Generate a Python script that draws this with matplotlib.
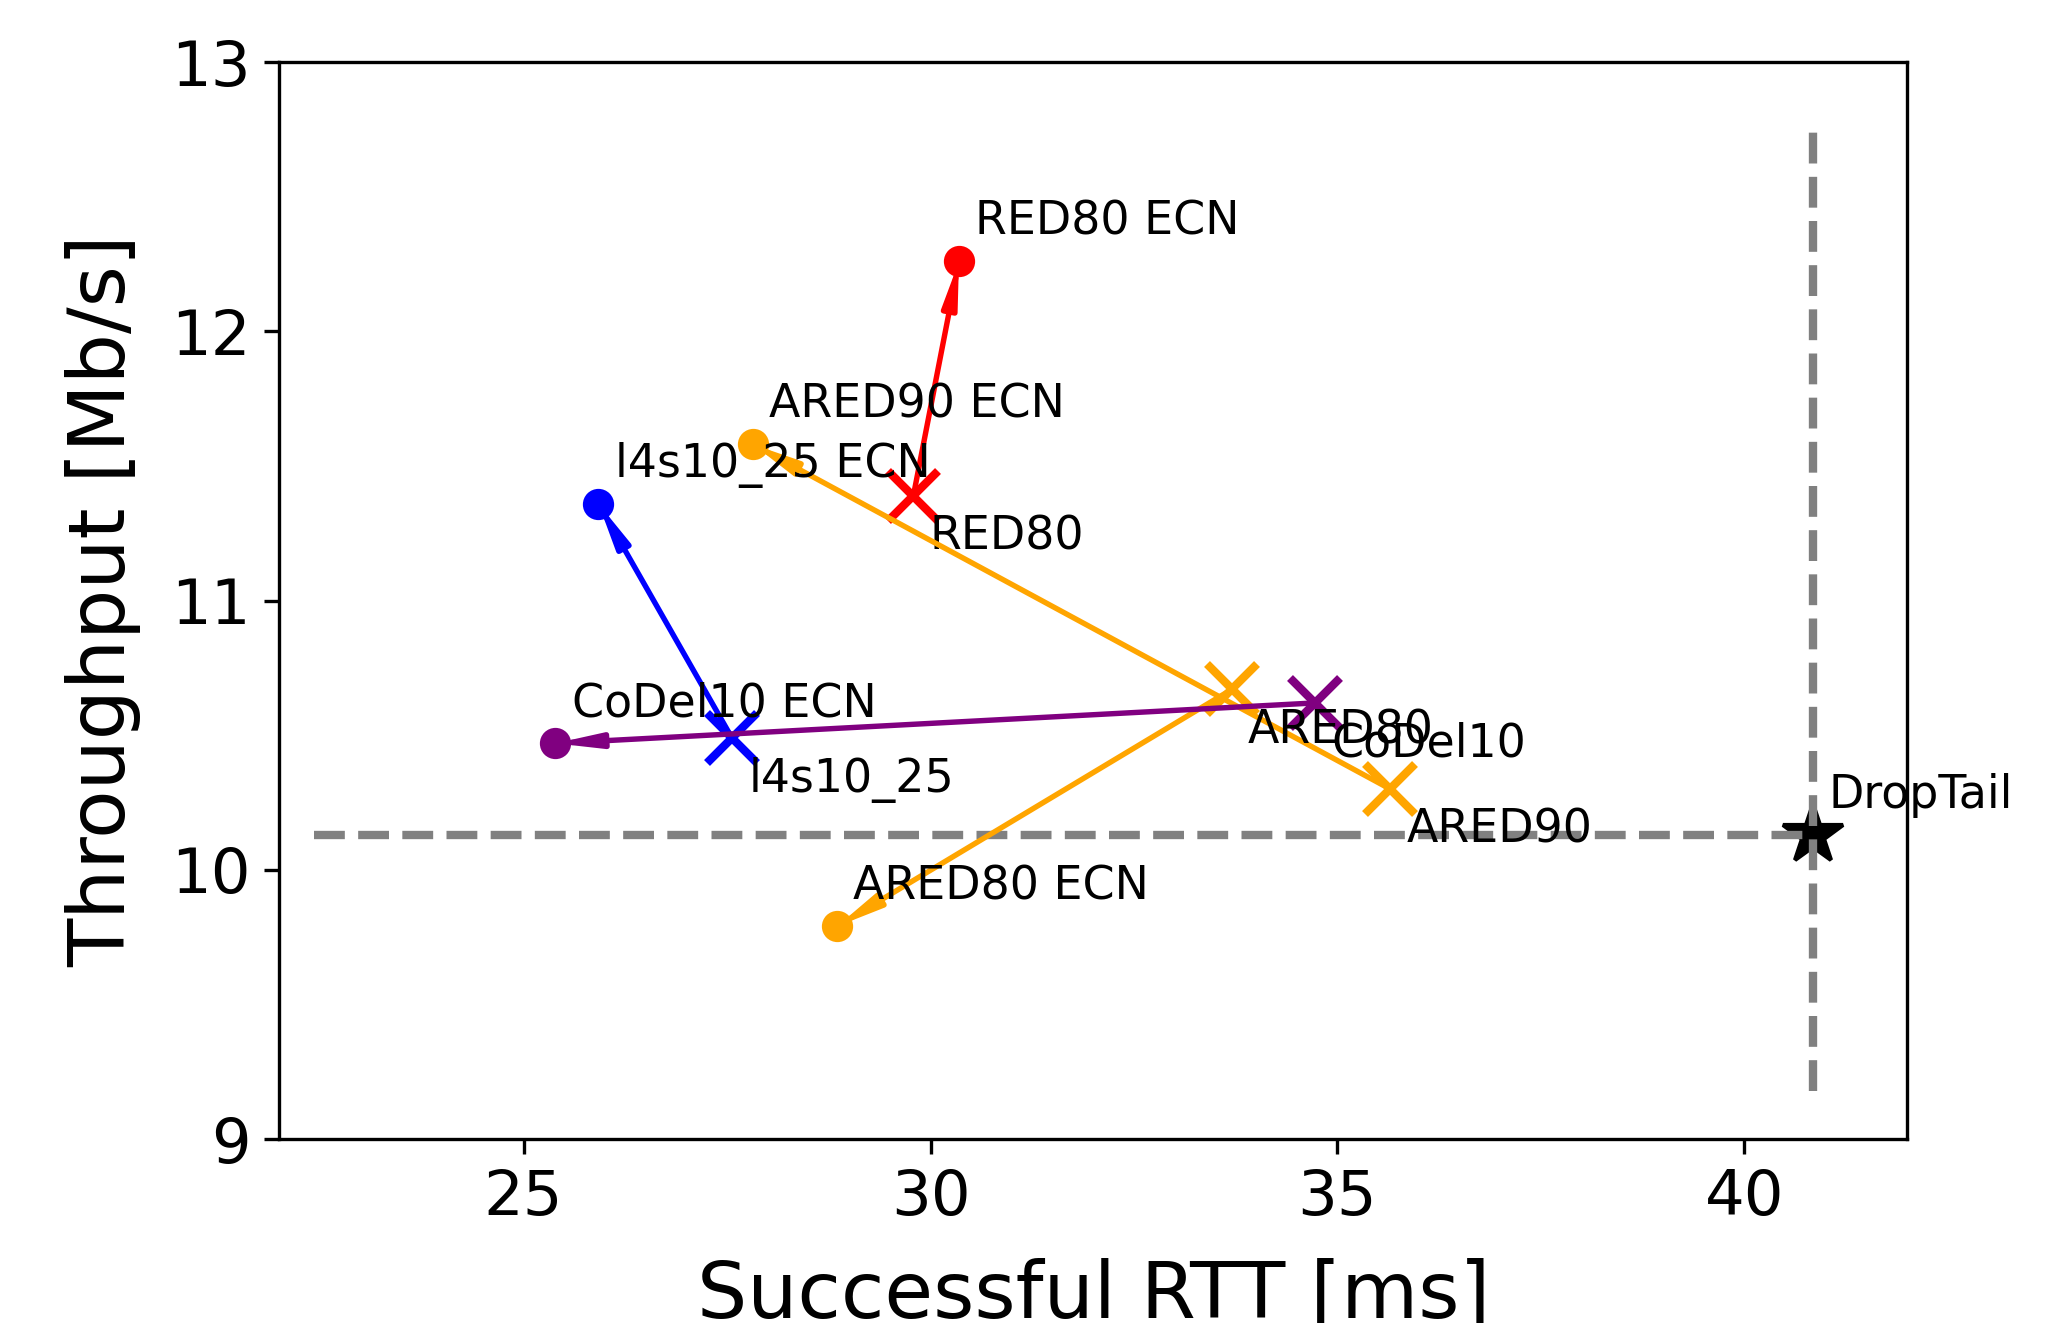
import matplotlib
matplotlib.use('Agg')
import matplotlib.pyplot as plt

# Datos: (RTT [ms], throughput [Mb/s]) sin ECN y con ECN
nombres = ['RED80', 'ARED90', 'ARED80', 'l4s10_25', 'CoDel10']
colores = ['red', 'orange', 'orange', 'blue', 'purple']
rtt_sin = [29.79, 35.65, 33.70, 27.56, 34.72]
thr_sin = [11.39, 10.30, 10.67, 10.49, 10.62]
rtt_ecn = [30.35, 27.82, 28.85, 25.92, 25.39]
thr_ecn = [12.26, 11.58, 9.79, 11.36, 10.47]

# Referencia DropTail
droptail_rtt = 40.84
droptail_thr = 10.13
hline_x0 = 22.42
vline_y0 = 9.18
vline_y1 = 12.74

fig = plt.figure(figsize=(6.85, 4.41), dpi=300)
ax = fig.add_axes([0.136, 0.139, 0.792, 0.814])

for i in range(len(nombres)):
    c = colores[i]
    ax.annotate('', xy=(rtt_ecn[i], thr_ecn[i]), xytext=(rtt_sin[i], thr_sin[i]),
                arrowprops=dict(arrowstyle='-|>,head_length=0.6,head_width=0.1',
                                color=c, lw=1.3, shrinkA=0, shrinkB=0,
                                mutation_scale=14))
    ax.plot(rtt_sin[i], thr_sin[i], 'x', color=c, markersize=12, mew=2)
    ax.plot(rtt_ecn[i], thr_ecn[i], 'o', color=c, markersize=6.5, zorder=3)
    ax.text(rtt_sin[i] + 0.2, thr_sin[i] - 0.2, nombres[i], fontsize=11)
    ax.text(rtt_ecn[i] + 0.2, thr_ecn[i] + 0.1, nombres[i] + ' ECN', fontsize=11)

ax.plot(droptail_rtt, droptail_thr, '*', color='black', markersize=15)
ax.plot([hline_x0, droptail_rtt], [droptail_thr, droptail_thr], '--', color='gray', lw=2)
ax.plot([droptail_rtt, droptail_rtt], [vline_y0, vline_y1], '--', color='gray', lw=2)
ax.text(droptail_rtt + 0.2, droptail_thr + 0.1, 'DropTail', fontsize=11)

ax.set_xlim(22, 42)
ax.set_ylim(9, 13)
ax.set_xticks([25, 30, 35, 40])
ax.set_yticks([9, 10, 11, 12, 13])
ax.tick_params(labelsize=15)
ax.set_xlabel('Successful RTT [ms]', fontsize=19, labelpad=7)
ax.set_ylabel('Throughput [Mb/s]', fontsize=19, labelpad=7)

plt.savefig('out.png')
